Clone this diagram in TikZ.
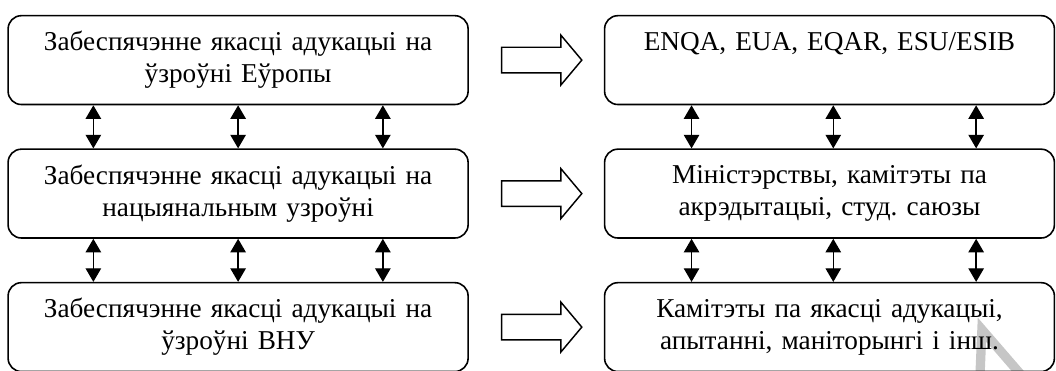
\documentclass[tikz,border=0pt]{standalone}
\usepackage{fontspec}
\setmainfont{Liberation Serif}
\usetikzlibrary{shapes.arrows, arrows.meta, positioning, calc}
\tikzstyle{level} = [
    rectangle,
    rounded corners=0.35cm,
    minimum width=12.17cm,
    minimum height=2.35cm,
    text centered,
    draw=black,
    line width=1.2pt,
    text width=11.9cm,
    font=\fontsize{20.5}{24}\selectfont
]
\tikzstyle{actor} = [level, minimum width=11.9cm, text width=11.6cm]
\tikzstyle{pointer} = [
    single arrow,
    draw=black,
    line width=1.1pt,
    minimum height=2.12cm,
    single arrow head extend=0.32cm,
    single arrow tip angle=100,
    inner xsep=0pt,
    inner ysep=0.32cm
]
\tikzstyle{link} = [{Triangle[width=0.41cm,length=0.36cm]}-{Triangle[width=0.41cm,length=0.36cm]}, line width=1pt]

\begin{document}
\begin{tikzpicture}
    \useasboundingbox (0,0) rectangle (27.94,-9.79);

    % Watermark fragment
    \draw [gray!45, line width=7pt] (25.93,-9.9) -- (25.98,-8.72) -- (27.0,-9.9);

    % Levels of quality assurance
    \node (europe) [level] at (6.30,-1.59) {Забеспячэнне якасці адукацыі на\\ўзроўні Еўропы};
    \node (nation) [level, below=1.14cm of europe] {Забеспячэнне якасці адукацыі на\\нацыянальным узроўні};
    \node (univ) [level, below=1.14cm of nation] {Забеспячэнне якасці адукацыі на\\ўзроўні ВНУ};

    % Actors on each level
    \node (bodies) [actor, right=3.57cm of europe] {ENQA, EUA, EQAR, ESU/ESIB\\\phantom{ўзроўні Еўропы}};
    \node (ministry) [actor, right=3.57cm of nation] {Міністэрствы, камітэты па\\акрэдытацыі, студ.\ саюзы};
    \node (committee) [actor, right=3.57cm of univ] {Камітэты па якасці адукацыі,\\апытанні, маніторынгі і інш.};

    % Block arrows between the columns
    \node (p1) [pointer] at ($(europe.east)!0.5!(bodies.west)$) {};
    \node (p2) [pointer] at ($(nation.east)!0.5!(ministry.west)$) {};
    \node (p3) [pointer] at ($(univ.east)!0.5!(committee.west)$) {};

    % Links between levels, left column
    \draw [link] ($(europe.south)+(-3.83,0)$) -- ($(nation.north)+(-3.83,0)$);
    \draw [link] ($(europe.south)+(0,0)$) -- ($(nation.north)+(0,0)$);
    \draw [link] ($(europe.south)+(3.83,0)$) -- ($(nation.north)+(3.83,0)$);
    \draw [link] ($(nation.south)+(-3.83,0)$) -- ($(univ.north)+(-3.83,0)$);
    \draw [link] ($(nation.south)+(0,0)$) -- ($(univ.north)+(0,0)$);
    \draw [link] ($(nation.south)+(3.83,0)$) -- ($(univ.north)+(3.83,0)$);

    % Links between levels, right column
    \draw [link] ($(bodies.south)+(-3.65,0)$) -- ($(ministry.north)+(-3.65,0)$);
    \draw [link] ($(bodies.south)+(0.1,0)$) -- ($(ministry.north)+(0.1,0)$);
    \draw [link] ($(bodies.south)+(3.88,0)$) -- ($(ministry.north)+(3.88,0)$);
    \draw [link] ($(ministry.south)+(-3.65,0)$) -- ($(committee.north)+(-3.65,0)$);
    \draw [link] ($(ministry.south)+(0.1,0)$) -- ($(committee.north)+(0.1,0)$);
    \draw [link] ($(ministry.south)+(3.88,0)$) -- ($(committee.north)+(3.88,0)$);
\end{tikzpicture}
\end{document}
